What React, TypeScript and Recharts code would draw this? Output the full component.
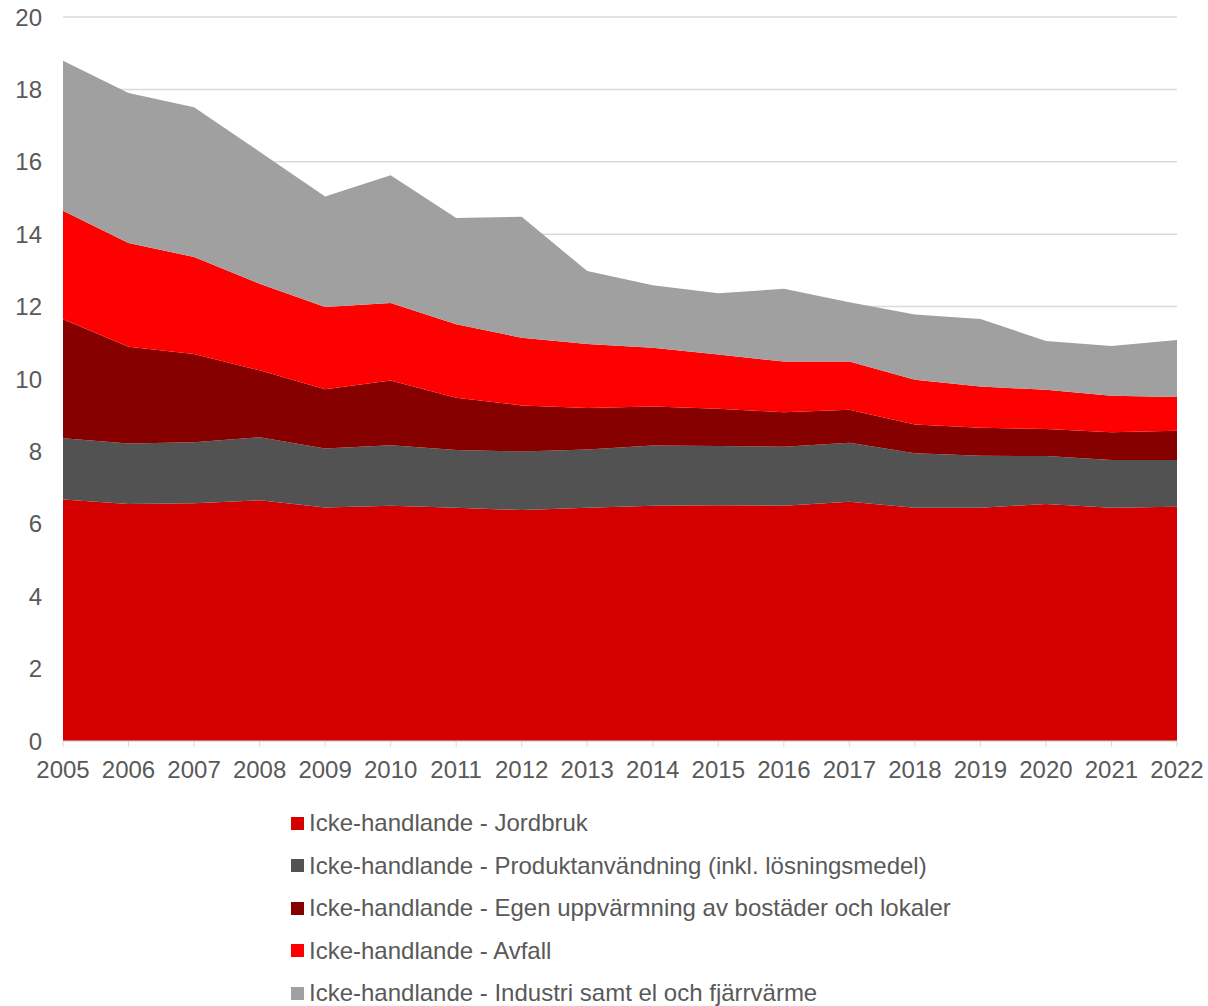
import { Area, AreaChart, CartesianGrid, Legend, XAxis, YAxis } from "recharts";

const years = [
  "2005", "2006", "2007", "2008", "2009", "2010", "2011", "2012", "2013",
  "2014", "2015", "2016", "2017", "2018", "2019", "2020", "2021", "2022",
];

const jordbruk = [6.67, 6.55, 6.57, 6.65, 6.45, 6.5, 6.44, 6.38, 6.44, 6.5, 6.51, 6.5, 6.61, 6.44, 6.44, 6.55, 6.44, 6.47];
const produkt = [1.69, 1.67, 1.68, 1.74, 1.63, 1.67, 1.6, 1.62, 1.61, 1.66, 1.64, 1.63, 1.63, 1.51, 1.44, 1.32, 1.32, 1.29];
const uppvarmning = [3.29, 2.67, 2.44, 1.85, 1.64, 1.79, 1.44, 1.27, 1.15, 1.08, 1.03, 0.95, 0.91, 0.79, 0.77, 0.75, 0.77, 0.81];
const avfall = [3.0, 2.87, 2.68, 2.39, 2.27, 2.14, 2.03, 1.87, 1.77, 1.62, 1.5, 1.4, 1.33, 1.24, 1.14, 1.08, 1.01, 0.93];
const industri = [4.14, 4.14, 4.14, 3.65, 3.05, 3.53, 2.94, 3.34, 2.01, 1.73, 1.69, 2.01, 1.64, 1.8, 1.87, 1.35, 1.37, 1.58];

const yTicks = [0, 2, 4, 6, 8, 10, 12, 14, 16, 18, 20];

const series = [
  { key: "jordbruk", name: "Icke-handlande - Jordbruk", color: "#d40000" },
  { key: "produkt", name: "Icke-handlande - Produktanvändning (inkl. lösningsmedel)", color: "#525252" },
  { key: "uppvarmning", name: "Icke-handlande - Egen uppvärmning av bostäder och lokaler", color: "#860000" },
  { key: "avfall", name: "Icke-handlande - Avfall", color: "#ff0000" },
  { key: "industri", name: "Icke-handlande - Industri samt el och fjärrvärme", color: "#a0a0a0" },
];

const data = years.map((year, i) => ({
  year,
  jordbruk: jordbruk[i],
  produkt: produkt[i],
  uppvarmning: uppvarmning[i],
  avfall: avfall[i],
  industri: industri[i],
}));

const FONT = "'Liberation Sans', Arial, sans-serif";
const TEXT = "#595959";

function LegendList() {
  return (
    <div style={{ fontFamily: FONT, fontSize: 24, color: TEXT, width: 700 }}>
      {series.map((s) => (
        <div key={s.key} style={{ display: "flex", alignItems: "center", height: 42.5 }}>
          <span style={{ width: 13, height: 13, background: s.color, marginRight: 5, flexShrink: 0 }} />
          <span style={{ whiteSpace: "nowrap" }}>{s.name}</span>
        </div>
      ))}
    </div>
  );
}

export default function App() {
  // fixed so the page never scrolls and the chart sits at the window's origin
  return (
    <div style={{ position: "fixed", left: 0, top: 0, width: 1208, height: 1006, overflow: "hidden", background: "#fff" }}>
      <AreaChart
        width={1208}
        height={1006}
        data={data}
        margin={{ top: 17, right: 31, bottom: 22.5, left: 0 }}
      >
        <CartesianGrid vertical={false} stroke="#d9d9d9" strokeWidth={1.5} />
        <XAxis
          dataKey="year"
          height={30}
          stroke="#d9d9d9"
          tickSize={6}
          tickMargin={14}
          tick={{ fill: TEXT, fontSize: 24, fontFamily: FONT }}
          interval={0}
        />
        <YAxis
          domain={[0, 20]}
          ticks={yTicks}
          width={63}
          axisLine={false}
          tickLine={false}
          tickSize={0}
          tickMargin={21}
          tick={{ fill: TEXT, fontSize: 24, fontFamily: FONT }}
        />
        {series.map((s) => (
          <Area
            key={s.key}
            type="linear"
            dataKey={s.key}
            name={s.name}
            stackId="1"
            stroke="none"
            fill={s.color}
            fillOpacity={1}
            isAnimationActive={false}
          />
        ))}
        <Legend
          layout="vertical"
          align="center"
          verticalAlign="bottom"
          content={() => <LegendList />}
          wrapperStyle={{ left: 291, top: 802, bottom: "auto", width: 700 }}
        />
      </AreaChart>
    </div>
  );
}
